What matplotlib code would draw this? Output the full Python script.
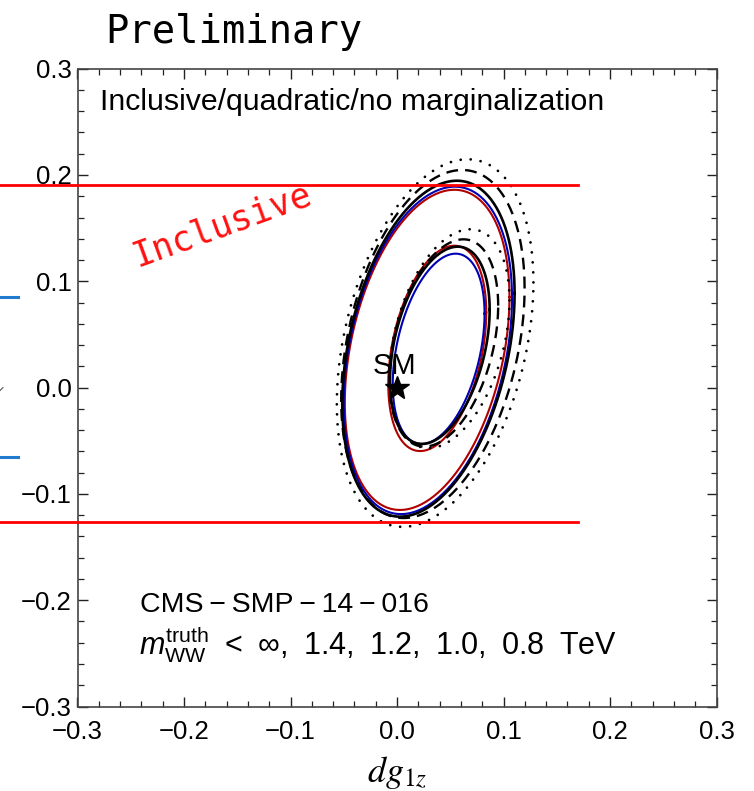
import numpy as np
import matplotlib.pyplot as plt
from matplotlib.ticker import MultipleLocator, FuncFormatter

plt.rcParams['font.family'] = ['Liberation Sans', 'DejaVu Sans']
plt.rcParams['mathtext.fontset'] = 'custom'
plt.rcParams['mathtext.rm'] = 'Liberation Sans'
plt.rcParams['mathtext.it'] = 'Liberation Sans:italic'

# contour sets, one entry per m_WW^truth cut: inf, 1.4, 1.2, 1.0, 0.8 TeV
cuts = ['inf', '1.4', '1.2', '1.0', '0.8']

# outer contour: centre, half-extent in x and y, x-y correlation
outer_cx = [0.0283, 0.0290, 0.0295, 0.0337, 0.0358]
outer_cy = [0.0355, 0.0350, 0.0366, 0.0410, 0.0419]
outer_hx = [0.0773, 0.0790, 0.0809, 0.0861, 0.0923]
outer_hy = [0.1506, 0.1540, 0.1580, 0.1637, 0.1729]
outer_rho = [0.33, 0.32, 0.33, 0.32, 0.33]

# inner contour
inner_cx = [0.0378, 0.0391, 0.0402, 0.0440, 0.0493]
inner_cy = [0.0369, 0.0365, 0.0398, 0.0420, 0.0460]
inner_hx = [0.0460, 0.0431, 0.0468, 0.0510, 0.0563]
inner_hy = [0.0966, 0.0895, 0.0928, 0.0975, 0.1030]
inner_rho = [0.35, 0.37, 0.36, 0.36, 0.35]

# inclusive limits on the vertical coupling
incl_limits = [0.1906, -0.1262]
incl_xrange = [-0.375, 0.170]

# fragments of the neighbouring panel
side_ticks = [0.0852, -0.0654]

sm_point = (0.0, 0.0)

styles = {
    'inf': dict(color='#b00000', lw=1.5, ls='-'),
    '1.4': dict(color='#0000b4', lw=1.5, ls='-'),
    '1.2': dict(color='black', lw=1.9, ls='-'),
    '1.0': dict(color='black', lw=1.7, ls=(0, (5, 3))),
    '0.8': dict(color='black', lw=2.0, ls=(0, (0.01, 3.6)), dash_capstyle='round'),
}


def ellipse(cx, cy, hx, hy, rho, n=400):
    t = np.linspace(0, 2*np.pi, n)
    x = cx + hx*np.cos(t)
    y = cy + hy*(rho*np.cos(t) + np.sqrt(1 - rho**2)*np.sin(t))
    return x, y


fig = plt.figure(figsize=(7.54, 7.91), dpi=100)
ax = fig.add_axes([77.5/754, 1 - 706.5/791, 639/754, 637.8/791])

for i, c in enumerate(cuts):
    x, y = ellipse(outer_cx[i], outer_cy[i], outer_hx[i], outer_hy[i], outer_rho[i])
    ax.plot(x, y, **styles[c])
    x, y = ellipse(inner_cx[i], inner_cy[i], inner_hx[i], inner_hy[i], inner_rho[i])
    ax.plot(x, y, **styles[c])

for yl in incl_limits:
    ax.plot(incl_xrange, [yl, yl], color='#ff0000', lw=2.0, clip_on=False, zorder=5)

for yt in side_ticks:
    ax.plot([-0.375, -0.356], [yt, yt], color='#1f7ad0', lw=2.2, clip_on=False)
ax.plot([-0.375, -0.370], [-0.005, 0.0], color='#555555', lw=0.8, clip_on=False)

ax.plot(*sm_point, marker='*', color='black', ms=18, zorder=6)
ax.text(sm_point[0] - 0.002, sm_point[1] + 0.007, 'SM', fontsize=21, ha='center', va='bottom', zorder=6)

ax.set_xlim(-0.3, 0.3)
ax.set_ylim(-0.3, 0.3)
ax.xaxis.set_major_locator(MultipleLocator(0.1))
ax.yaxis.set_major_locator(MultipleLocator(0.1))
ax.xaxis.set_minor_locator(MultipleLocator(0.02))
ax.yaxis.set_minor_locator(MultipleLocator(0.02))
fmt = FuncFormatter(lambda v, p: ('%.1f' % v).replace('-', '\u2212') if abs(v) > 1e-9 else '0.0')
ax.xaxis.set_major_formatter(fmt)
ax.yaxis.set_major_formatter(fmt)
ax.tick_params(which='both', direction='in', top=True, right=True, color='#222222')
ax.tick_params(which='major', length=7, width=1.0, labelsize=18.5)
ax.tick_params(axis='x', which='major', pad=10)
ax.tick_params(axis='y', which='major', pad=4)
ax.tick_params(which='minor', length=4, width=0.9)
for s in ax.spines.values():
    s.set_color('#444444')
    s.set_linewidth(1.2)

ax.set_xlabel(r'$dg_{1z}$', fontsize=26, math_fontfamily='stix', labelpad=7)

ax.text(0.035, 0.935, 'Inclusive/quadratic/no marginalization', transform=ax.transAxes,
        fontsize=21.8, va='baseline')
ax.text(0.098, 0.148, 'CMS\u2009\u2212\u2009SMP\u2009\u2212\u200914\u2009\u2212\u2009016',
        transform=ax.transAxes, fontsize=20.5, va='baseline')
ax.text(0.096, 0.082, r'$m_{\mathrm{WW}}^{\mathrm{truth}}$' +
        '\u2002<\u2002\u221e,\u20021.4,\u20021.2,\u20021.0,\u20020.8\u2002TeV',
        transform=ax.transAxes, fontsize=22, va='baseline')

ax.text(0.226, 0.755, 'Inclusive', transform=ax.transAxes, fontsize=25, color='#ff1010',
        rotation=20, ha='center', va='center', family='DejaVu Sans Mono')
fig.text(234/754, 1 - 32/791, 'Preliminary', fontsize=28, ha='center', va='center',
         family='DejaVu Sans Mono')

fig.savefig('out.png', dpi=100)
